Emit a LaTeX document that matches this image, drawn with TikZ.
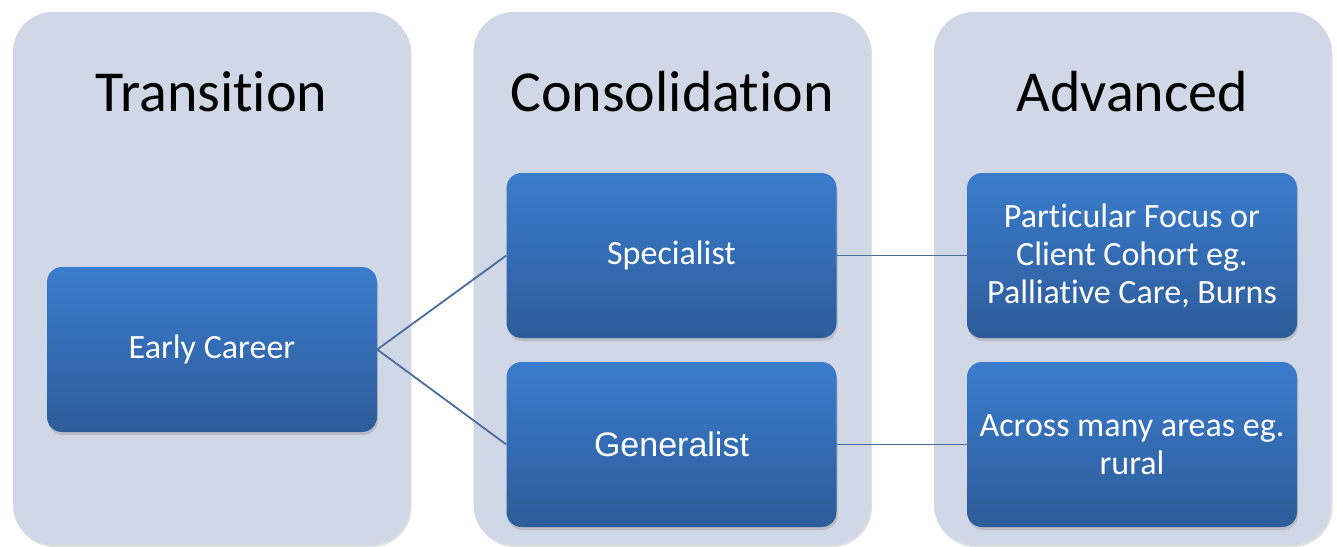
\documentclass[tikz,border=0pt]{standalone}
\usepackage{fontspec}
\setmainfont{Carlito}[Ligatures={NoCommon}]
\newfontfamily\arialfont{Liberation Sans}
\usepackage{tikz}
\usetikzlibrary{shadows}

\definecolor{panelfill}{HTML}{D0D7E6}
\definecolor{boxtop}{HTML}{3A7CCC}
\definecolor{boxbottom}{HTML}{2D5C99}
\definecolor{linkblue}{HTML}{4A6D9C}

\begin{document}
\begin{tikzpicture}[x=1pt,y=-1pt,
  stage/.style={rectangle,rounded corners=40pt,fill=panelfill,minimum width=397pt,minimum height=533pt,
    drop shadow={shadow xshift=1.5pt,shadow yshift=-2pt,opacity=0.25}},
  title/.style={font=\fontsize{58}{66}\selectfont,text=black},
  main node/.style={rectangle,rounded corners=15pt,top color=boxtop,bottom color=boxbottom,
    minimum width=330pt,minimum height=165pt,align=center,text=white,
    font=\fontsize{34}{38}\selectfont,
    drop shadow={shadow xshift=1pt,shadow yshift=-3pt,opacity=0.3}}]

  \useasboundingbox (0,0) rectangle (1337,546);
  \fill[white] (0,0) rectangle (1337,546);

  \node[stage] (p1) at (211.5,278.5) {};
  \node[stage] (p2) at (672,278.5) {};
  \node[stage] (p3) at (1132.5,278.5) {};

  \node[title] (t1) at (211.5,92) {Transition};
  \node[title] (t2) at (672,92) {Consolidation};
  \node[title] (t3) at (1132.5,92) {Advanced};

  \node[main node] (early) at (212,349.5) {Early Career};
  \node[main node] (spec) at (671.5,255.5) {Specialist};
  \node[main node] (gen) at (671.5,444.5) {\arialfont Generalist};
  \node[main node] (focus) at (1132,255.5) {Particular Focus or\\Client Cohort eg.\\Palliative Care, Burns};
  \node[main node] (across) at (1132,444.5) {Across many areas eg.\\rural};

  \path[draw=linkblue,line width=1.8pt]
    (early.east) edge (spec.west)
    (early.east) edge (gen.west)
    (spec.east) edge (focus.west)
    (gen.east) edge (across.west);

\end{tikzpicture}
\end{document}
